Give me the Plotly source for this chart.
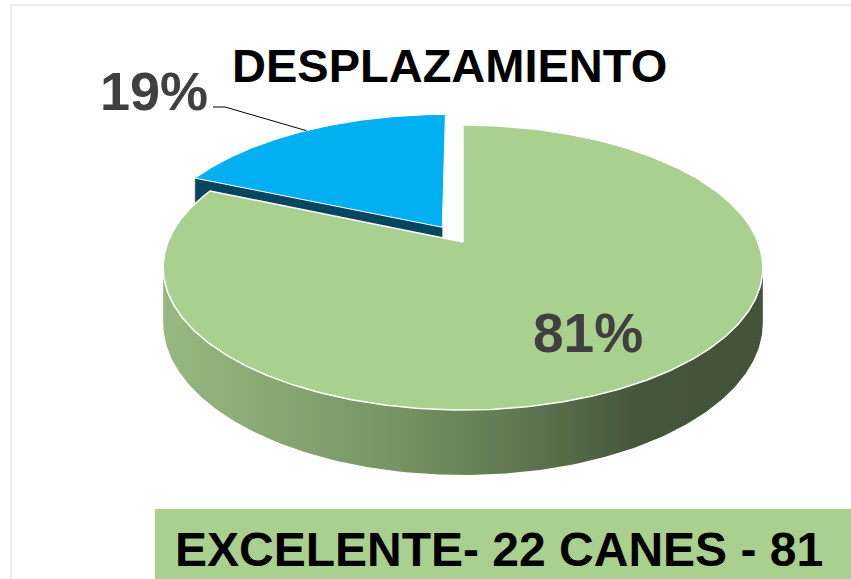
import numpy as np
import plotly.graph_objects as go

# ---- data ----
labels = ["EXCELENTE", "OTROS"]
values = [22, 5]
top_colors = ["#A9D08E", "#00B0F0"]
side_colors = ["#6F8B5D", "#06475F"]
explode = [0.0, 0.13]
title_text = "DESPLAZAMIENTO"
footer_text = "EXCELENTE- 22 CANES - 81"

W, H = 851, 579

# ---- 3D pie projection parameters (layout, pixels) ----
cx, cy = 463.0, 242.0      # projected centre of the top face
A, B = 295.0, 137.9        # horizontal / vertical radii
K = 0.179                  # perspective factor
D0 = 53.4                  # thickness

def proj(u, w, h=0.0):
    den = 1.0 + K * np.asarray(w)
    x = cx + A * np.asarray(u) / den
    y = cy + (-B * np.asarray(w) + D0 * h) / den
    return x, y

total = float(sum(values))
pcts = [v / total for v in values]
cum = np.concatenate([[0.0], np.cumsum(pcts)])
start = [90.0 - 360.0 * cum[i] for i in range(len(values))]
end = [90.0 - 360.0 * cum[i + 1] for i in range(len(values))]

fig = go.Figure()

def sector_offset(i):
    mid = np.radians((start[i] + end[i]) / 2.0)
    return explode[i] * np.cos(mid), explode[i] * np.sin(mid)

# blue (second) slice: visible radial face, then top
i = 1
ou, ow = sector_offset(i)
th_edge = np.radians(start[i])
pu = [ou, ou + np.cos(th_edge), ou + np.cos(th_edge), ou]
pw = [ow, ow + np.sin(th_edge), ow + np.sin(th_edge), ow]
ph = [0, 0, 1, 1]
xs, ys = [], []
for u, w, h in zip(pu, pw, ph):
    x, y = proj(u, w, h)
    xs.append(float(x)); ys.append(float(y))
fig.add_trace(go.Scatter(x=xs, y=ys, mode="lines", fill="toself",
                         fillcolor=side_colors[i], line=dict(color=side_colors[i], width=0.5),
                         hoverinfo="skip", showlegend=False))
th = np.radians(np.linspace(start[i], end[i], 120))
u = np.concatenate([[ou], ou + np.cos(th), [ou]])
w = np.concatenate([[ow], ow + np.sin(th), [ow]])
x, y = proj(u, w)
fig.add_trace(go.Scatter(x=x, y=y, mode="lines", fill="toself", fillcolor=top_colors[i],
                         line=dict(color="white", width=1), hoverinfo="skip", showlegend=False,
                         name=labels[i]))

# green (first) slice: front side with gradient, then top
i = 0
a0 = 180.0 + np.degrees(np.arcsin(K))
a1 = 360.0 - np.degrees(np.arcsin(K))
th = np.radians(np.linspace(a0, a1, 200))
xt, yt = proj(np.cos(th), np.sin(th), 0.0)
xb, yb = proj(np.cos(th), np.sin(th), 1.0)
fig.add_trace(go.Scatter(x=np.concatenate([xt, xb[::-1]]), y=np.concatenate([yt, yb[::-1]]),
                         mode="lines", fill="toself",
                         fillgradient=dict(type="horizontal",
                                           colorscale=[[0, "#98B882"], [0.35, "#7A9866"],
                                                       [0.6, "#5E7750"], [0.8, "#43553A"],
                                                       [1, "#435438"]]),
                         line=dict(color="rgba(0,0,0,0)", width=0), hoverinfo="skip",
                         showlegend=False))
th = np.radians(np.linspace(start[i], end[i], 400))
u = np.concatenate([[0], np.cos(th), [0]])
w = np.concatenate([[0], np.sin(th), [0]])
x, y = proj(u, w)
fig.add_trace(go.Scatter(x=x, y=y, mode="lines", fill="toself", fillcolor=top_colors[i],
                         line=dict(color="white", width=1.5), hoverinfo="skip", showlegend=False,
                         name=labels[i]))

# leader line for the small slice label
i = 1
ou, ow = sector_offset(i)
mid = np.radians((start[i] + end[i]) / 2.0)
lx, ly = proj(ou + np.cos(mid), ow + np.sin(mid))
fig.add_trace(go.Scatter(x=[213, 225, float(lx)], y=[107, 107, float(ly)], mode="lines",
                         line=dict(color="black", width=1), hoverinfo="skip", showlegend=False))

font_family = "Liberation Sans, Arial, sans-serif"
pct_labels = [f"{round(p * 100):d}%" for p in pcts]
fig.add_annotation(x=588, y=333, text=f"<b>{pct_labels[0]}</b>", showarrow=False,
                   font=dict(family=font_family, size=55, color="#404040"))
fig.add_annotation(x=154, y=91, text=f"<b>{pct_labels[1]}</b>", showarrow=False,
                   font=dict(family=font_family, size=54, color="#404040"))
fig.add_annotation(x=449, y=65, text=f"<b>{title_text}</b>", showarrow=False,
                   font=dict(family=font_family, size=47, color="black"))

# footer box
fig.add_shape(type="rect", xref="x", yref="y", x0=155, x1=870, y0=509, y1=600,
              fillcolor="#A9D08E", line=dict(width=0), layer="below")
fig.add_annotation(x=499, y=549, text=f"<b>{footer_text}</b>", showarrow=False,
                   font=dict(family=font_family, size=48, color="black"))

# chart border
fig.add_shape(type="rect", xref="x", yref="y", x0=11, x1=900, y0=5, y1=600,
              line=dict(color="#D9D9D9", width=1), layer="below")

fig.update_layout(
    width=W, height=H, margin=dict(l=0, r=0, t=0, b=0),
    paper_bgcolor="white", plot_bgcolor="white",
    xaxis=dict(range=[0, W], visible=False, fixedrange=True),
    yaxis=dict(range=[H, 0], visible=False, fixedrange=True),
    showlegend=False,
)

fig.write_html(
    "out.html",
    config={"displayModeBar": False, "staticPlot": True},
    post_script=("document.body.style.margin='0';"
                 "document.body.style.overflow='hidden';"
                 "document.documentElement.style.overflow='hidden';"),
)
